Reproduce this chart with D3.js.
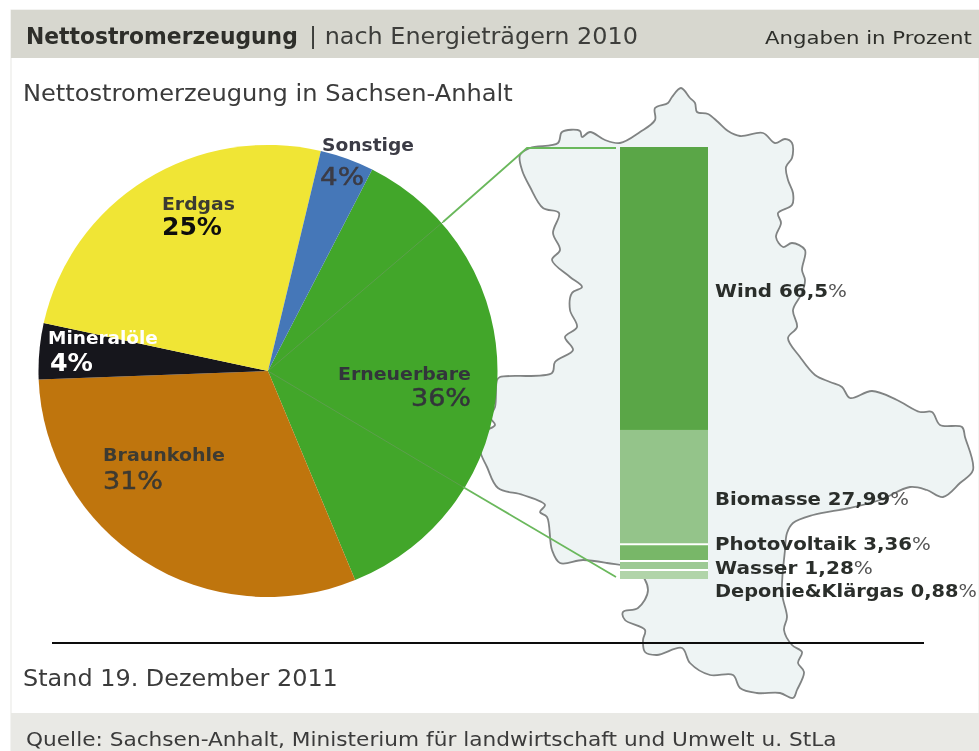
<!DOCTYPE html>
<html><head><meta charset="utf-8">
<script src="https://cdn.jsdelivr.net/npm/d3@7"></script>
<style>html,body{margin:0;padding:0;background:#fff}svg{display:block}text{font-family:"DejaVu Sans",Verdana,sans-serif}</style>
</head><body><div id="chart"></div>
<script>
const titleBold = "Nettostromerzeugung";
const titleRest = "| nach Energieträgern 2010";
const unitNote = "Angaben in Prozent";
const subtitle = "Nettostromerzeugung in Sachsen-Anhalt";
const dateNote = "Stand 19. Dezember 2011";
const sourceNote = "Quelle: Sachsen-Anhalt, Ministerium für landwirtschaft und Umwelt u. StLa";

const pieCategories = ["Erneuerbare","Braunkohle","Mineralöle","Erdgas","Sonstige"];
const pieLabels = [36,31,4,25,4];
// slice sizes as they are drawn in the picture
const pieDrawn = [36.3,30.6,4,25.3,3.8];
const pieColors = ["#42a62a","#bf7411","#15131a","#f0e535","#4577b8"];
const pieTextColors = ["#33363a","#3d3a30","#ffffff","#3a3a30","#3b3b45"];
const pieValueColors = ["#33363a","#3d3a30","#ffffff","#111111","#3b3b45"];
const pieValueWeights = ["normal","normal","bold","bold","normal"];

const barCategories = ["Wind","Biomasse","Photovoltaik","Wasser","Deponie&Klärgas"];
const barLabels = ["66,5","27,99","3,36","1,28","0,88"];
// heights of the segments as they are drawn in the picture (not true to the labels)
const barDrawnShares = [65.5,26.2,3.9,2.1,2.3];
const barColors = ["#5aa646","#94c48a","#78b767","#9dc994","#b1d4a9"];

// outline of the federal state (map units = pixels of the picture)
const mapOutline = [[681,88],[690,98],[695,103],[697,112],[708,114],[718,122],[728,131],[740,136],[763,133],[775,143],[785,139],[792,143],[792,158],[786,167],[788,180],[793,193],[792,205],[778,213],[781,223],[776,237],[783,247],[792,243],[805,250],[802,270],[805,280],[802,293],[793,310],[797,327],[788,338],[800,357],[815,375],[830,382],[842,387],[850,398],[872,391],[897,400],[920,412],[932,412],[940,425],[962,427],[965,437],[973,470],[960,483],[943,497],[927,490],[910,487],[880,500],[850,508],[813,515],[793,523],[787,533],[785,550],[782,593],[787,617],[784,630],[792,645],[802,652],[798,663],[804,672],[797,690],[793,698],[780,693],[757,693],[740,688],[733,675],[710,675],[690,663],[682,648],[657,655],[645,652],[643,640],[645,630],[625,620],[623,612],[638,608],[648,590],[637,570],[607,563],[583,560],[560,563],[552,550],[547,517],[540,512],[545,505],[523,495],[498,488],[487,467],[480,450],[483,433],[495,425],[490,417],[495,407],[497,380],[500,377],[552,373],[555,362],[573,350],[565,337],[577,327],[570,310],[572,293],[582,287],[570,277],[552,260],[560,250],[553,233],[559,213],[543,208],[530,187],[522,170],[520,155],[530,148],[558,143],[562,132],[580,131],[582,137],[590,132],[605,140],[620,143],[640,132],[655,120],[655,108],[668,103],[672,97]];

const W = 979, H = 751;
const svg0 = d3.select("#chart").append("svg").attr("width",W).attr("height",H).attr("viewBox",[0,0,W,H]);
svg0.append("defs").append("filter").attr("id","soft").attr("x",0).attr("y",0).attr("width","100%").attr("height","100%")
  .append("feGaussianBlur").attr("stdDeviation",0.45);
const svg = svg0.append("g").attr("filter","url(#soft)");

// The reference's lettering is horizontally stretched: fit a text to the width it has there.
function fit(sel, x, y, width){
  const w = sel.node().getComputedTextLength();
  sel.attr("transform",`translate(${x},${y}) scale(${width/w},1)`);
  return sel;
}

// page frame
svg.append("rect").attr("x",0).attr("y",0).attr("width",W).attr("height",H).attr("fill","#ffffff");
svg.append("rect").attr("x",11).attr("y",10).attr("width",W-11).attr("height",H-10).attr("fill","#ffffff").attr("stroke","#e8e8e4").attr("stroke-width",1);
svg.append("rect").attr("x",11).attr("y",10).attr("width",W-11).attr("height",48).attr("fill","#d7d7cf");
svg.append("rect").attr("x",11).attr("y",713).attr("width",W-11).attr("height",38).attr("fill","#e9e9e5");

fit(svg.append("text").attr("font-size",22.5).attr("font-weight","bold").attr("fill","#2d2f2a").text(titleBold),26,43.5,272);
fit(svg.append("text").attr("font-size",22.5).attr("fill","#3c3e3a").text(titleRest),309,43.5,329);
fit(svg.append("text").attr("font-size",18).attr("fill","#2d2f2a").text(unitNote),765,43.5,207);
fit(svg.append("text").attr("font-size",22.5).attr("fill","#3a3a3a").text(subtitle),23,100.5,490);

// map
svg.append("path").attr("d",d3.line().curve(d3.curveCatmullRomClosed.alpha(0.5))(mapOutline))
  .attr("fill","#eef4f4").attr("stroke","#808383").attr("stroke-width",1.8).attr("stroke-linejoin","round");

// rule + notes
svg.append("line").attr("x1",52).attr("x2",924).attr("y1",643).attr("y2",643).attr("stroke","#111").attr("stroke-width",2);
fit(svg.append("text").attr("font-size",22.5).attr("fill","#3a3a3a").text(dateNote),23,685.5,315);
fit(svg.append("text").attr("font-size",20).attr("fill","#3a3a3a").text(sourceNote),26,745.5,811);

// pie
const cx = 268, cy = 371, R = 229.5, squash = 0.985;
const deg = Math.PI/180;
const pieGen = d3.pie().sort(null).startAngle(27*deg).endAngle(387*deg);
const arcs = pieGen(pieDrawn);
const arcGen = d3.arc().innerRadius(0).outerRadius(R);
const pieG = svg.append("g").attr("transform",`translate(${cx},${cy}) scale(1,${squash})`);
pieG.selectAll("path").data(arcs).join("path").attr("d",arcGen).attr("fill",(d,i)=>pieColors[i]);

// zoom connector: from the renewables slice to the stacked bar
const barTop = 147, barBottom = 579, barX = d3.scaleBand().domain(["bar"]).range([620,708]);
const p1 = [cx+175, cy-149], p2 = [cx+195, cy+116];
const connector = "#6ab85c";
svg.append("path").attr("d",d3.line()([[cx,cy],p1])).attr("stroke","#5c9f4c").attr("stroke-width",1).attr("fill","none");
svg.append("path").attr("d",d3.line()([[cx,cy],p2])).attr("stroke","#5c9f4c").attr("stroke-width",1).attr("fill","none");
svg.append("path").attr("d",d3.line()([p1,[527,148],[616,148]])).attr("stroke",connector).attr("stroke-width",1.8).attr("fill","none");
svg.append("path").attr("d",d3.line()([p2,[616,577]])).attr("stroke",connector).attr("stroke-width",1.8).attr("fill","none");

// stacked bar
const y = d3.scaleLinear().domain([0,d3.sum(barDrawnShares)]).range([barTop,barBottom]);
let acc = 0;
const segs = barDrawnShares.map((v,i)=>{const s={i,y0:acc,y1:acc+v};acc+=v;return s;});
const barG = svg.append("g");
barG.selectAll("rect.seg").data(segs).join("rect").attr("class","seg")
  .attr("x",barX("bar")).attr("width",barX.bandwidth())
  .attr("y",d=>y(d.y0)).attr("height",d=>y(d.y1)-y(d.y0)).attr("fill",d=>barColors[d.i]);
barG.selectAll("line.gap").data(segs.slice(2)).join("line").attr("class","gap")
  .attr("x1",barX("bar")).attr("x2",barX("bar")+barX.bandwidth())
  .attr("y1",d=>y(d.y0)+1).attr("y2",d=>y(d.y0)+1).attr("stroke","#ffffff").attr("stroke-width",2);

// bar labels
const labelY = [297,504.5,550,574,596.5];
const labelW = [132,194,216,158,262];
const barLab = svg.append("g").attr("font-size",18.5).attr("font-weight","bold").attr("fill","#2b2e2c");
barLab.selectAll("text").data(barCategories).join("text")
  .each(function(d,i){
    const t=d3.select(this);
    t.append("tspan").text(d+" "+barLabels[i]);
    t.append("tspan").attr("font-weight","normal").attr("fill","#555").text("%");
    fit(t,715,labelY[i],labelW[i]);
  });

// pie labels
const pieLabelPos = [[338,379.5],[103,460.5],[48,343.5],[162,209.5],[322,150.5]];
const pieLabelW = [133,122,110,73,92];
const pieValuePos = [[411,406],[103,489],[50,371],[162,235],[320,185]];
const pieValueW = [60,60,43,60,44];
const pieLab = svg.append("g");
pieLab.selectAll("text.n").data(pieCategories).join("text").attr("class","n")
  .attr("font-size",18).attr("font-weight","bold").attr("fill",(d,i)=>pieTextColors[i]).text(d=>d)
  .each(function(d,i){fit(d3.select(this),pieLabelPos[i][0],pieLabelPos[i][1],pieLabelW[i]);});
pieLab.selectAll("text.v").data(pieLabels).join("text").attr("class","v")
  .attr("font-size",24).attr("font-weight",(d,i)=>pieValueWeights[i]).attr("fill",(d,i)=>pieValueColors[i])
  .attr("stroke",(d,i)=>pieValueWeights[i]==="normal"?pieValueColors[i]:"none").attr("stroke-width",0.5).text(d=>d+"%")
  .each(function(d,i){fit(d3.select(this),pieValuePos[i][0],pieValuePos[i][1],pieValueW[i]);});
</script></body></html>
